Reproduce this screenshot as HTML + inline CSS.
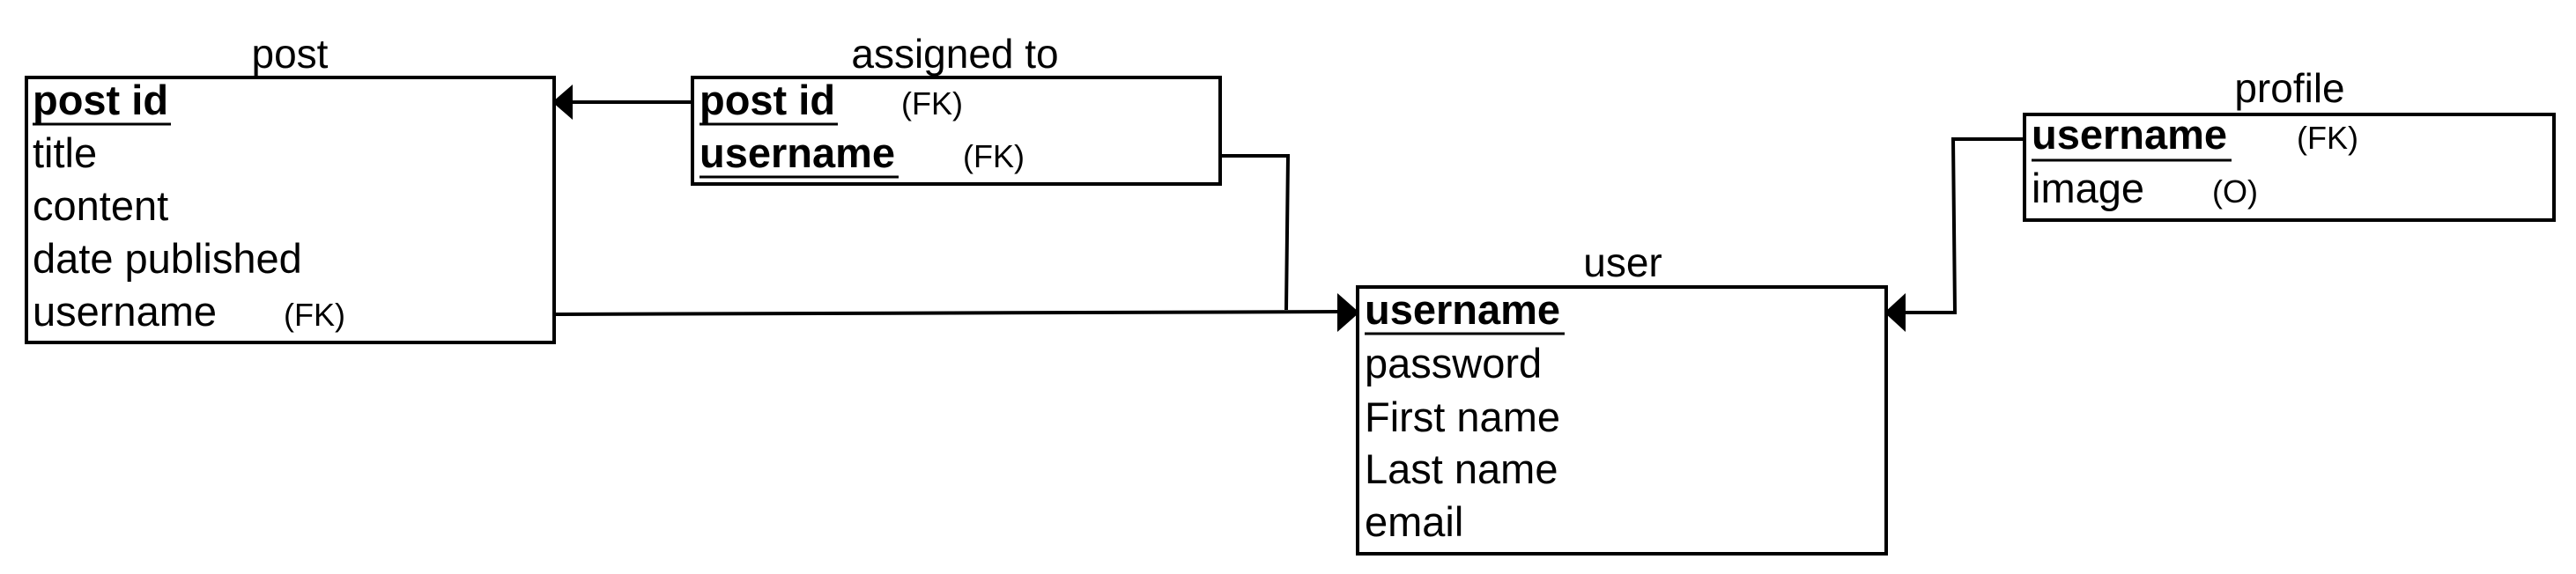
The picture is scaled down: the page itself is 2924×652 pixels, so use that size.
<!DOCTYPE html>
<html><head><meta charset="utf-8"><style>
html,body{margin:0;padding:0;background:#fff;}
svg{display:block;}
text{font-family:"Liberation Sans",Arial,sans-serif;fill:#000;}
.t{font-size:46px;}
.r{font-size:47px;}
.b{font-size:47px;font-weight:bold;}
.s{font-size:36px;}
</style></head><body>
<svg width="2924" height="652" viewBox="0 0 2924 652" xmlns="http://www.w3.org/2000/svg">
<g fill="none" stroke="#000" stroke-width="4">
<rect x="30" y="88" width="599" height="301"/>
<rect x="786" y="88" width="599" height="121"/>
<rect x="1541" y="326" width="600" height="303"/>
<rect x="2298" y="130" width="601" height="120"/>
<path d="M786 116 H640"/>
<path d="M1385 177 H1462 L1460 352"/>
<path d="M629 357 L1530 354"/>
<path d="M2298 158 H2217 L2219 355 H2150"/>
</g>
<g fill="#000">
<polygon points="627,116 650,96 650,136"/>
<polygon points="1543,355 1518,333 1518,377"/>
<polygon points="2139,355 2163,333 2163,377"/>
</g>
<g stroke="#000" stroke-width="3">
<line x1="37" y1="141" x2="194" y2="141"/>
<line x1="794" y1="141" x2="951" y2="141"/>
<line x1="794" y1="201" x2="1020" y2="201"/>
<line x1="1549" y1="379" x2="1776" y2="379"/>
<line x1="2306" y1="182" x2="2533" y2="182"/>
</g>
<text class="t" x="329" y="77" text-anchor="middle">post</text>
<text class="t" x="1084" y="77" text-anchor="middle">assigned to</text>
<text class="t" x="1842" y="314" text-anchor="middle">user</text>
<text class="t" x="2599" y="116" text-anchor="middle">profile</text>

<text class="b" x="37" y="130">post id</text>
<text class="r" x="37" y="190">title</text>
<text class="r" x="37" y="250">content</text>
<text class="r" x="37" y="310">date published</text>
<text class="r" x="37" y="370">username</text>
<text class="s" x="322" y="370">(FK)</text>

<text class="b" x="794" y="130">post id</text>
<text class="s" x="1023" y="130">(FK)</text>
<text class="b" x="794" y="190">username</text>
<text class="s" x="1093" y="190">(FK)</text>

<text class="b" x="1549" y="368">username</text>
<text class="r" x="1549" y="429">password</text>
<text class="r" x="1549" y="490">First name</text>
<text class="r" x="1549" y="549">Last name</text>
<text class="r" x="1549" y="609">email</text>

<text class="b" x="2306" y="169">username</text>
<text class="s" x="2607" y="169">(FK)</text>
<text class="r" x="2306" y="230">image</text>
<text class="s" x="2511" y="230">(O)</text>
</svg>
</body></html>
